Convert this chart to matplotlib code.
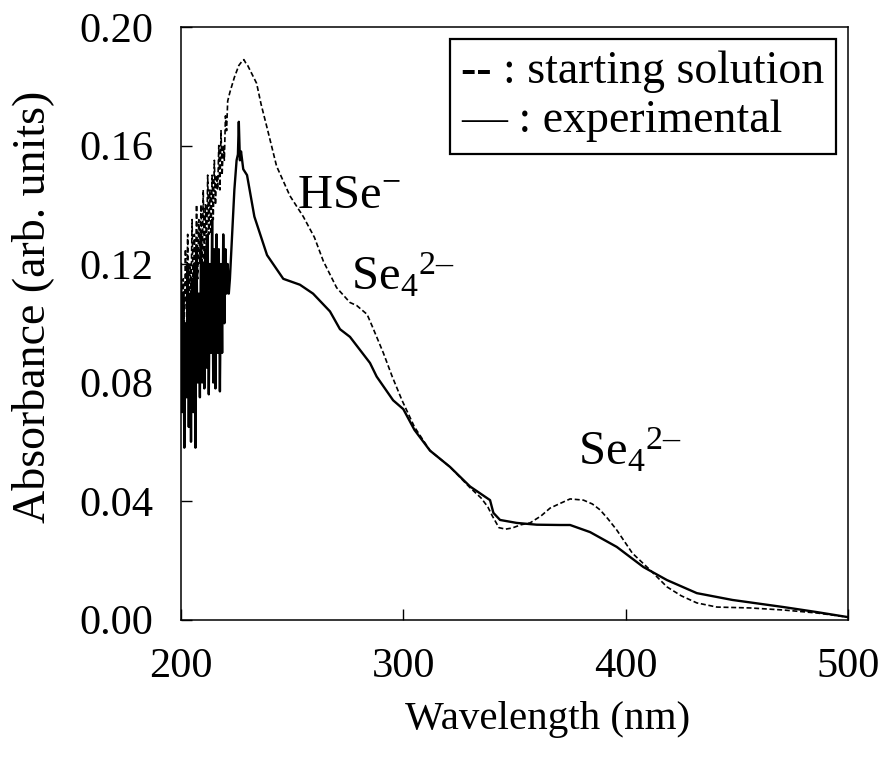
import matplotlib
matplotlib.use("Agg")
import matplotlib.pyplot as plt

plt.rcParams['font.family'] = ['Liberation Serif', 'DejaVu Serif']
plt.rcParams['mathtext.fontset'] = 'custom'
plt.rcParams['mathtext.rm'] = 'Liberation Serif'
plt.rcParams['mathtext.it'] = 'Liberation Serif:italic'
plt.rcParams['mathtext.bf'] = 'Liberation Serif:bold'

# ---- data: starting solution (dashed) ----
start_wl = [200, 200.5, 201, 201.5, 202, 202.5, 203, 203.5, 204, 204.5,
            205, 205.5, 206, 206.5, 207, 207.5, 208, 208.5, 209, 209.5,
            210, 210.5, 211, 211.5, 212, 212.5, 213, 213.5, 214, 214.5,
            215, 215.5, 216, 216.5, 217, 217.5, 218, 218.5, 219, 219.5,
            220, 220.5, 221, 222, 224, 226, 227, 228.3, 229, 230, 232, 234,
            236, 238.7, 243, 249, 255, 260, 264, 270, 276, 279, 283.7, 286,
            291, 295, 299.4, 305, 312, 321, 330, 335, 338, 340, 343, 346,
            349, 353, 357, 362, 366, 370, 375, 381, 385, 388.5, 392, 396,
            403, 411, 418.6, 425, 432, 441, 456, 471, 486, 500]
start_abs = [0.120, 0.095, 0.115, 0.100, 0.125, 0.105, 0.130, 0.100, 0.120, 0.110,
             0.135, 0.105, 0.130, 0.115, 0.140, 0.115, 0.135, 0.120, 0.140, 0.118,
             0.145, 0.120, 0.140, 0.125, 0.150, 0.130, 0.145, 0.130, 0.150, 0.135,
             0.155, 0.140, 0.150, 0.145, 0.160, 0.145, 0.165, 0.150, 0.160, 0.155,
             0.170, 0.165, 0.175, 0.178, 0.183, 0.187, 0.188, 0.189, 0.188, 0.187, 0.184, 0.181,
             0.174, 0.166, 0.153, 0.143, 0.136, 0.129, 0.121, 0.112, 0.107, 0.106, 0.103, 0.099,
             0.090, 0.082, 0.074, 0.065, 0.057, 0.0515, 0.0445, 0.041, 0.038, 0.035, 0.031, 0.0305,
             0.0309, 0.0320, 0.0326, 0.0350, 0.0376, 0.0390, 0.0407, 0.0403, 0.0390, 0.0370, 0.0340, 0.0302,
             0.0224, 0.0167, 0.0110, 0.0080, 0.0056, 0.0042, 0.0039, 0.0032, 0.0022, 0.0008]

# ---- data: experimental (solid) ----
exp_wl = [200, 200.5, 201, 201.5, 202, 202.5, 203, 203.5, 204, 204.5,
          205, 205.5, 206, 206.5, 207, 207.5, 208, 208.5, 209, 209.5,
          210, 210.5, 211, 211.5, 212, 212.5, 213, 213.5, 214, 214.5,
          215, 215.5, 216, 216.5, 217, 217.5, 218, 218.5, 219, 219.5,
          220, 220.5, 221, 221.5, 222, 223, 224, 225, 225.6, 226, 226.5, 227,
          228, 229.7, 233, 238.7, 246, 253.5, 259.4, 267, 271.5, 276, 280.5,
          285, 288, 295.4, 300, 305, 312, 321, 330, 339, 340.5, 343.5, 351,
          360, 370.5, 375, 384, 396, 408, 418.6, 432, 448, 471, 486, 500]
exp_abs = [0.120, 0.070, 0.110, 0.058, 0.100, 0.075, 0.120, 0.065, 0.110, 0.060,
           0.115, 0.070, 0.120, 0.058, 0.125, 0.080, 0.110, 0.075, 0.130, 0.080,
           0.120, 0.078, 0.125, 0.085, 0.130, 0.076, 0.120, 0.090, 0.135, 0.080,
           0.125, 0.078, 0.130, 0.090, 0.125, 0.077, 0.120, 0.090, 0.130, 0.100,
           0.125, 0.110, 0.120, 0.110, 0.115, 0.130, 0.145, 0.155, 0.157, 0.168, 0.155, 0.158,
           0.152, 0.150, 0.136, 0.123, 0.115, 0.113, 0.110, 0.104, 0.098, 0.0954, 0.091,
           0.0866, 0.082, 0.074, 0.071, 0.064, 0.057, 0.0515, 0.0449, 0.0403, 0.036, 0.0336, 0.0326,
           0.0320, 0.0319, 0.0319, 0.0295, 0.0245, 0.0177, 0.0133, 0.0089, 0.0066, 0.0042, 0.0025, 0.0008]

x_ticks = [200, 300, 400, 500]
y_ticks = [0.00, 0.04, 0.08, 0.12, 0.16, 0.20]
y_ticklabels = ['0.00', '0.04', '0.08', '0.12', '0.16', '0.20']

fig = plt.figure(figsize=(8.79, 7.67), dpi=100)
ax = fig.add_axes([181/879, 147.5/767, 667/879, 592.5/767])

l1, = ax.plot(start_wl, start_abs, color='black', lw=1.2, dashes=(3, 1.6))
l2, = ax.plot(exp_wl, exp_abs, color='black', lw=1.7)

ax.set_xlim(200, 500)
ax.set_ylim(0, 0.20)
ax.set_xticks(x_ticks)
ax.set_yticks(y_ticks)
ax.set_yticklabels(y_ticklabels)
ax.tick_params(direction='in', length=8, width=1.0, labelsize=30.5, pad=20)
ax.tick_params(axis='x', pad=20)
for s in ax.spines.values():
    s.set_linewidth(1.1)

ax.set_xlabel('Wavelength (nm)', fontsize=29.5)
ax.xaxis.set_label_coords(0.549, -0.138)
ax.set_ylabel('Absorbance (arb. units)', fontsize=33)
ax.yaxis.set_label_coords(-0.19, 0.527)

leg = ax.legend([l1, l2], ['-- : starting solution', '\u2014 : experimental'],
                handlelength=0, handletextpad=0, fontsize=33,
                loc='upper right', bbox_to_anchor=(0.982, 0.98),
                borderaxespad=0, fancybox=False, framealpha=1,
                edgecolor='black', borderpad=0.25, labelspacing=0.15)
leg.get_frame().set_linewidth(1.6)
for h in leg.legend_handles:
    h.set_visible(False)

ax.text(252, 0.139, r'HSe$^{-}$', fontsize=35, ha='left', va='baseline')
ax.text(276.5, 0.111, '$\\mathrm{Se}_{4}{}^{2\u2013}$', fontsize=35, ha='left', va='baseline')
ax.text(378.5, 0.052, '$\\mathrm{Se}_{4}{}^{2\u2013}$', fontsize=35, ha='left', va='baseline')

fig.savefig('out.png', dpi=100)
